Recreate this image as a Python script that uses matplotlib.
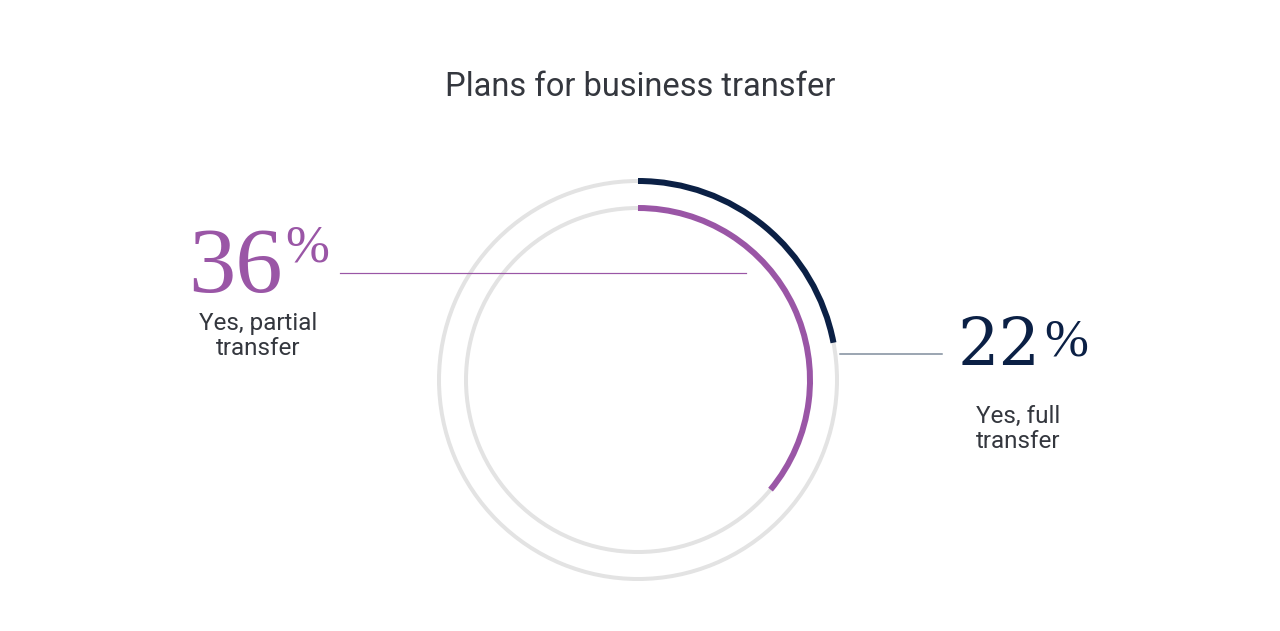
import matplotlib.pyplot as plt
from matplotlib.patches import Arc

# data
title = 'Plans for business transfer'
labels = ['Yes, full\ntransfer', 'Yes, partial\ntransfer']
values = [22, 36]
colors = ['#0b2045', '#9a56a6']
track_color = '#e3e3e3'

fig = plt.figure(figsize=(12.8, 6.31), dpi=100)
ax = fig.add_axes([0, 0, 1, 1])
ax.set_xlim(0, 1280)
ax.set_ylim(631, 0)
ax.set_aspect('equal')
ax.axis('off')

cx, cy = 638, 380
radii = [199, 172]
px = 0.72  # points per pixel at dpi 100

for r, v, c in zip(radii, values, colors):
    # gray track
    ax.add_patch(Arc((cx, cy), 2 * r, 2 * r, theta1=0, theta2=360,
                     color=track_color, lw=4 * px))
    # value arc, clockwise from top (y axis flipped so angles go clockwise)
    ax.add_patch(Arc((cx, cy), 2 * r, 2 * r, theta1=-90, theta2=-90 + v * 3.6,
                     color=c, lw=6 * px, capstyle='butt'))

sans = ['Roboto', 'DejaVu Sans']
serif = ['Liberation Serif', 'DejaVu Serif']
text_color = '#34373e'

ax.text(640, 87, title, ha='center', va='center', fontsize=23.5,
        color=text_color, family=sans)

# connector lines
ax.plot([340, 746], [273, 273], color=colors[1], lw=1.2 * px)
ax.plot([840, 942], [354, 354], color='#7d8b9b', lw=1.5 * px)

# 36% partial
ax.text(283, 292, str(values[1]), ha='right', va='baseline', fontsize=68,
        color=colors[1], family=serif)
ax.text(285, 262, '%', ha='left', va='baseline', fontsize=38,
        color=colors[1], family=serif)
ax.text(258, 336, labels[1], ha='center', va='center', fontsize=17.5,
        color=text_color, family=sans, linespacing=1.1)

# 22% full
ax.text(1041, 365, str(values[0]), ha='right', va='baseline', fontsize=47,
        color=colors[0], family=['DejaVu Serif'])
ax.text(1044, 355, '%', ha='left', va='baseline', fontsize=38,
        color=colors[0], family=serif)
ax.text(1018, 429, labels[0], ha='center', va='center', fontsize=17.5,
        color=text_color, family=sans, linespacing=1.1)

fig.savefig('out.png', dpi=100, facecolor='white')
